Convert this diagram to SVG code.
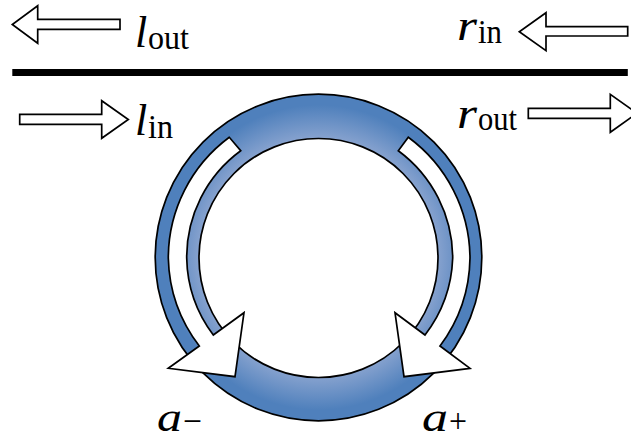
<svg xmlns="http://www.w3.org/2000/svg" width="631" height="440" viewBox="0 0 631 440">
<style>
.o{fill:#fff;stroke:#000;stroke-width:1.7;stroke-linejoin:miter}
.m{font-family:"Liberation Serif",serif;font-style:italic;font-size:44px;fill:#000}
.b{font-family:"Liberation Serif",serif;font-style:italic;font-size:42px;fill:#000}
.s{font-family:"Liberation Serif",serif;font-size:33px;fill:#000}
</style>
<defs>
<radialGradient id="g" gradientUnits="userSpaceOnUse" cx="318.5" cy="257.5" r="164">
<stop offset="0" stop-color="#8fa9d2"/>
<stop offset="0.72" stop-color="#88a3cf"/>
<stop offset="0.93" stop-color="#4f80bc"/>
<stop offset="1" stop-color="#4f80bc"/>
</radialGradient>
</defs>
<rect id="waveguide" x="12.3" y="69" width="615.5" height="7" fill="#000"/>
<g id="ring">
<circle cx="318.5" cy="257.5" r="163.3" fill="url(#g)" stroke="#000" stroke-width="1.7"/>
<circle cx="318.5" cy="258" r="119.5" fill="#fff" stroke="#000" stroke-width="1.7"/>
</g>
<g id="connectors">
<path id="a-minus-arrow" class="o" d="M229.3 137.3A150.5 150.5 0 0 0 168.3 258A150.5 150.5 0 0 0 199.3 346L168.3 368.3L235 376.7L244 312.7L213.3 335A132 132 0 0 1 186.7 258A132 132 0 0 1 240.7 150.7Z"/>
<path id="a-plus-arrow" class="o" d="M408.3 137.3A151 151 0 0 1 470 258A151 151 0 0 1 440 346L470 368.3L404 376.7L395 312.7L425 335A134 134 0 0 0 452.7 258A134 134 0 0 0 398.3 150.7Z"/>
<path id="l-out-arrow" class="o" d="M120 19.3H37.7V5.7L12.3 24.5L37.7 43.3V29.3H120Z"/>
<path id="l-in-arrow" class="o" d="M19.7 114.3H101.7V100.7L128.3 119.5L101.7 138.3V124.3H19.7Z"/>
<path id="r-in-arrow" class="o" d="M627.7 26.7H546V12.7L519.3 31.7L546 50.7V36H627.7Z"/>
<path id="r-out-arrow" class="o" d="M528.3 108.3H610.3V94.3L637 113.3L610.3 132.3V118.3H528.3Z"/>
</g>
<g id="label-l-out"><text class="m" x="135" y="47">l</text><text class="s" x="148" y="49" textLength="41" lengthAdjust="spacingAndGlyphs">out</text></g>
<g id="label-l-in"><text class="m" x="135" y="135">l</text><text class="s" x="148" y="138" textLength="25" lengthAdjust="spacingAndGlyphs">in</text></g>
<g id="label-r-in"><text class="m" x="457" y="40" textLength="20" lengthAdjust="spacingAndGlyphs">r</text><text class="s" x="478" y="43" textLength="24" lengthAdjust="spacingAndGlyphs">in</text></g>
<g id="label-r-out"><text class="m" x="457" y="128" textLength="20" lengthAdjust="spacingAndGlyphs">r</text><text class="s" x="478" y="130" textLength="39" lengthAdjust="spacingAndGlyphs">out</text></g>
<g id="label-a-minus"><text class="b" x="157" y="430.5" textLength="25" lengthAdjust="spacingAndGlyphs">a</text><text class="s" x="183" y="432" textLength="19" lengthAdjust="spacingAndGlyphs">−</text></g>
<g id="label-a-plus"><text class="b" x="422" y="430.5" textLength="26" lengthAdjust="spacingAndGlyphs">a</text><text class="s" x="449" y="432" textLength="18" lengthAdjust="spacingAndGlyphs">+</text></g>
</svg>
